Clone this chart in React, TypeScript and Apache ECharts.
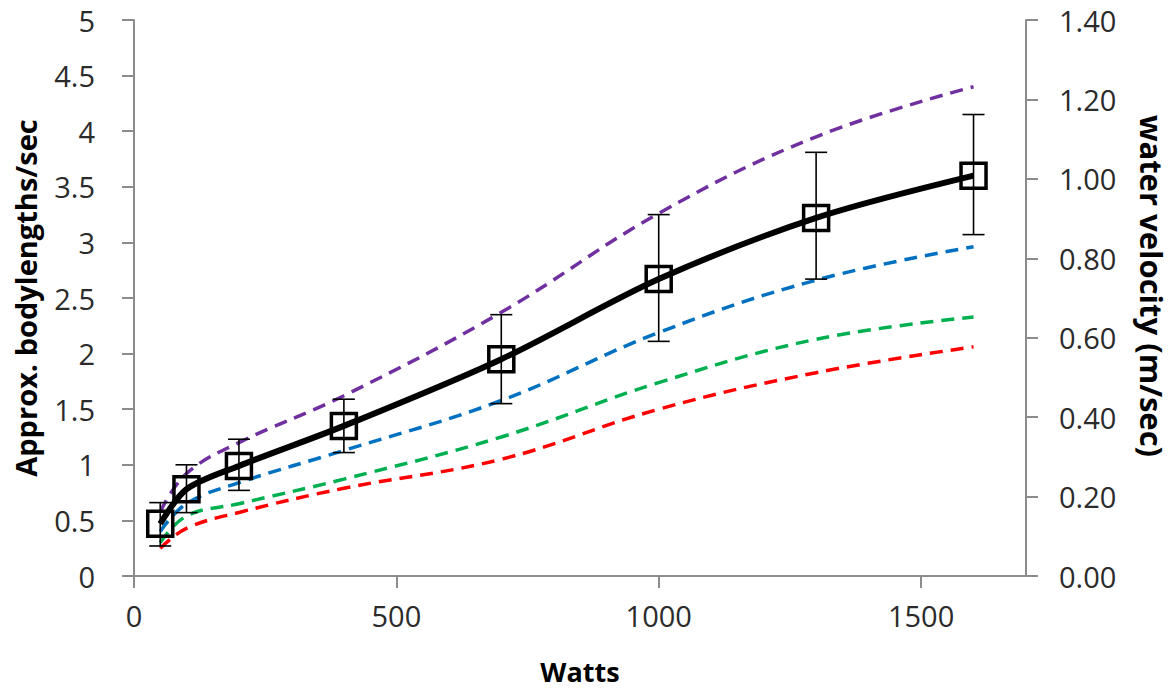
import React, { useEffect, useRef } from "react";
import * as echarts from "echarts";

const watts = [50, 100, 200, 400, 700, 1000, 1300, 1600];
const bodyLengths = [0.47, 0.78, 0.99, 1.35, 1.95, 2.67, 3.22, 3.6];
const errLow = [0.27, 0.57, 0.77, 1.11, 1.55, 2.11, 2.67, 3.07];
const errHigh = [0.66, 1.0, 1.23, 1.59, 2.35, 3.25, 3.81, 4.15];

const purpleVel = [0.162, 0.258, 0.336, 0.454, 0.664, 0.913, 1.106, 1.232];
const blueVel = [0.112, 0.182, 0.235, 0.316, 0.442, 0.613, 0.745, 0.829];
const greenVel = [0.084, 0.151, 0.182, 0.244, 0.35, 0.487, 0.596, 0.652];
const redVel = [0.07, 0.12, 0.16, 0.221, 0.294, 0.42, 0.512, 0.577];

const xTicks = [0, 500, 1000, 1500];

const FONT = "'Open Sans', 'Noto Sans', sans-serif";

export default function App() {
  const ref = useRef<HTMLDivElement>(null);
  useEffect(() => {
    if (!ref.current) return;
    const chart = echarts.init(ref.current, undefined, { renderer: "svg" });
    const pair = (vals: number[]) => watts.map((w, i) => [w, vals[i]]);
    const dashed = (name: string, vals: number[], color: string) => ({
      name,
      type: "line",
      yAxisIndex: 1,
      data: pair(vals),
      smooth: 0.4,
      symbol: "none",
      z: 2,
      lineStyle: { color, width: 3.5, type: [13, 8] },
    });
    const axisLineStyle = { color: "#8c8c8c", width: 2 };
    const labelStyle = { fontFamily: FONT, fontSize: 29, color: "#2b2b2b" };
    const titleStyle = { fontFamily: FONT, fontWeight: "bold", color: "#000" };
    chart.setOption({
      animation: false,
      backgroundColor: "#ffffff",
      grid: {
        left: 134,
        right: 148,
        top: 20,
        bottom: 114,
        containLabel: false,
        outerBoundsMode: "none",
      },
      xAxis: {
        type: "value",
        min: 0,
        max: 1700,
        interval: 500,
        name: "Watts",
        nameLocation: "middle",
        nameGap: 82,
        nameTextStyle: { ...titleStyle, fontSize: 27 },
        axisLine: { show: true, lineStyle: axisLineStyle },
        axisTick: { show: true, length: 12, lineStyle: axisLineStyle, customValues: xTicks },
        axisLabel: {
          ...labelStyle,
          customValues: xTicks,
          margin: 25,
          formatter: (v: number) => String(v),
        },
        splitLine: { show: false },
      },
      yAxis: [
        {
          type: "value",
          min: 0,
          max: 5,
          interval: 0.5,
          name: "Approx. bodylengths/sec",
          nameLocation: "middle",
          nameRotate: 90,
          nameGap: 94,
          nameTextStyle: { ...titleStyle, fontSize: 29 },
          axisLine: { show: true, lineStyle: axisLineStyle },
          axisTick: { show: true, length: 12, lineStyle: axisLineStyle },
          axisLabel: { ...labelStyle, margin: 39 },
          splitLine: { show: false },
        },
        {
          type: "value",
          min: 0,
          max: 1.4,
          interval: 0.2,
          position: "right",
          name: "water velocity (m/sec)",
          nameLocation: "middle",
          nameRotate: -90,
          nameGap: 110,
          nameTextStyle: { ...titleStyle, fontSize: 31, padding: [0, 24, 0, 0] },
          axisLine: { show: true, lineStyle: axisLineStyle },
          axisTick: { show: true, length: 12, lineStyle: axisLineStyle },
          axisLabel: {
            ...labelStyle,
            margin: 33,
            formatter: (v: number) => v.toFixed(2),
          },
          splitLine: { show: false },
        },
      ],
      series: [
        dashed("purple", purpleVel, "#7030a0"),
        dashed("blue", blueVel, "#0070c0"),
        dashed("green", greenVel, "#00b050"),
        dashed("red", redVel, "#ff0000"),
        {
          name: "bodylengths",
          type: "line",
          yAxisIndex: 0,
          data: pair(bodyLengths),
          smooth: 0.3,
          symbol: "rect",
          symbolSize: 25,
          z: 5,
          lineStyle: { color: "#000", width: 6 },
          itemStyle: { color: "rgba(0,0,0,0)", borderColor: "#000", borderWidth: 3.5 },
        },
        {
          name: "error",
          type: "custom",
          yAxisIndex: 0,
          z: 6,
          data: watts.map((w, i) => [w, errLow[i], errHigh[i]]),
          encode: { x: 0, y: [1, 2] },
          renderItem: (params: any, api: any) => {
            const x = api.value(0);
            const lo = api.coord([x, api.value(1)]);
            const hi = api.coord([x, api.value(2)]);
            const hw = 11;
            const style = { stroke: "#000", lineWidth: 1.6 };
            return {
              type: "group",
              children: [
                { type: "line", shape: { x1: lo[0], y1: lo[1], x2: hi[0], y2: hi[1] }, style },
                { type: "line", shape: { x1: hi[0] - hw, y1: hi[1], x2: hi[0] + hw, y2: hi[1] }, style },
                { type: "line", shape: { x1: lo[0] - hw, y1: lo[1], x2: lo[0] + hw, y2: lo[1] }, style },
              ],
            };
          },
        },
      ],
    });
    return () => chart.dispose();
  }, []);
  return (
    <div
      ref={ref}
      style={{ position: "fixed", left: 0, top: 0, width: 1174, height: 690, background: "#fff" }}
    />
  );
}
